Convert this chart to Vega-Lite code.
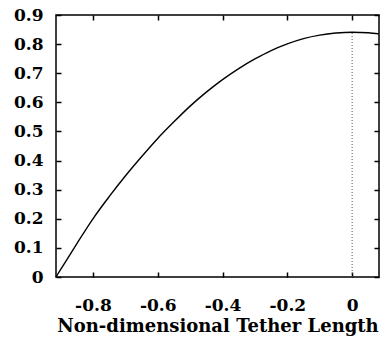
{
  "$schema": "https://vega.github.io/schema/vega-lite/v6.json",
  "autosize": "none",
  "width": 323,
  "height": 262,
  "padding": {"left": 56, "top": 15, "right": 2, "bottom": 62},
  "background": "white",
  "config": {
    "view": {"stroke": "black", "strokeWidth": 1.5},
    "axis": {
      "labelFont": "DejaVu Serif",
      "labelFontWeight": "bold",
      "labelFontSize": 17,
      "labelColor": "black",
      "titleFont": "DejaVu Serif",
      "titleFontWeight": "bold",
      "titleFontSize": 18,
      "titleColor": "black",
      "domain": false,
      "grid": false,
      "tickColor": "black",
      "tickWidth": 1.5,
      "tickSize": -5
    }
  },
  "datasets": {
    "curve": [
      {"x": -0.914, "y": 0},
      {"x": -0.9, "y": 0.025},
      {"x": -0.85, "y": 0.114},
      {"x": -0.8, "y": 0.2},
      {"x": -0.75, "y": 0.276},
      {"x": -0.7, "y": 0.347},
      {"x": -0.65, "y": 0.413},
      {"x": -0.6, "y": 0.476},
      {"x": -0.55, "y": 0.533},
      {"x": -0.5, "y": 0.587},
      {"x": -0.45, "y": 0.635},
      {"x": -0.4, "y": 0.678},
      {"x": -0.35, "y": 0.716},
      {"x": -0.3, "y": 0.749},
      {"x": -0.25, "y": 0.778},
      {"x": -0.2, "y": 0.801},
      {"x": -0.15, "y": 0.819},
      {"x": -0.1, "y": 0.831},
      {"x": -0.05, "y": 0.838},
      {"x": 0, "y": 0.841},
      {"x": 0.05, "y": 0.839},
      {"x": 0.083, "y": 0.835}
    ],
    "marker": [
      {"x": 0, "y": 0, "y2": 0.841}
    ]
  },
  "layer": [
    {
      "data": {"name": "curve"},
      "mark": {"type": "line", "color": "black", "strokeWidth": 1.4, "interpolate": "monotone"},
      "encoding": {
        "x": {
          "field": "x", "type": "quantitative",
          "scale": {"domain": [-0.914, 0.083], "nice": false, "zero": false},
          "axis": {"orient": "bottom", "values": [-0.8, -0.6, -0.4, -0.2, 0], "title": "Non-dimensional Tether Length", "labelPadding": 25, "titlePadding": 4, "format": "~g", "labelExpr": "replace(datum.label, '−', '-')"}
        },
        "y": {
          "field": "y", "type": "quantitative",
          "scale": {"domain": [0, 0.9], "nice": false},
          "axis": {"orient": "left", "values": [0, 0.1, 0.2, 0.3, 0.4, 0.5, 0.6, 0.7, 0.8, 0.9], "title": null, "labelPadding": 18, "format": "~g"}
        }
      }
    },
    {
      "data": {"name": "marker"},
      "mark": {"type": "rule", "color": "#555555", "strokeWidth": 1, "strokeDash": [1, 2]},
      "encoding": {
        "x": {
          "field": "x", "type": "quantitative",
          "axis": {"orient": "top", "values": [-0.8, -0.6, -0.4, -0.2, 0], "labels": false, "title": null}
        },
        "y": {
          "field": "y", "type": "quantitative",
          "axis": {"orient": "right", "values": [0, 0.1, 0.2, 0.3, 0.4, 0.5, 0.6, 0.7, 0.8, 0.9], "labels": false, "title": null}
        },
        "y2": {"field": "y2"}
      }
    }
  ]
}
